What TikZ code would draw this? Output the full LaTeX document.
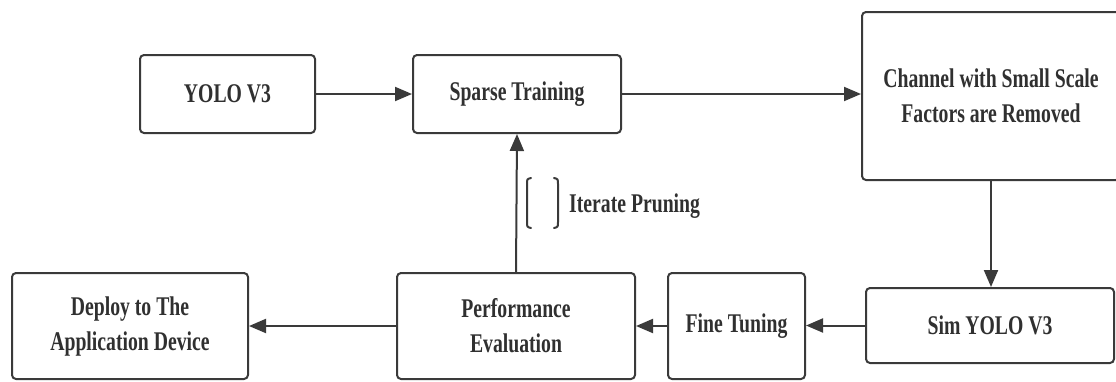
\documentclass[tikz,border=0pt]{standalone}
\usepackage{fontspec}
\setmainfont{Liberation Serif}[FakeStretch=0.73]
\usetikzlibrary{arrows.meta}
\definecolor{linec}{HTML}{3A3A3A}
\definecolor{textc}{HTML}{303030}
\begin{document}
\begin{tikzpicture}[x=1pt,y=-1pt,
  box/.style={draw=linec, line width=2pt, rounded corners=4pt, fill=white,
    text=textc, font=\bfseries\fontsize{27}{35}\selectfont, align=center, inner sep=0pt},
  flow/.style={draw=linec, line width=2pt, -{Triangle[length=17pt,width=14pt]}},
  bracket/.style={draw=linec, line width=2pt, line cap=round},
  note/.style={text=textc, font=\bfseries\fontsize{27}{35}\selectfont, inner sep=0pt}]
\useasboundingbox (0,0) rectangle (1116,381);

% process steps
\node[box, minimum width=175pt, minimum height=78pt]  (yolo)   at (227.5,94) {YOLO V3};
\node[box, minimum width=208pt, minimum height=78pt]  (sparse) at (517,94) {Sparse Training};
\node[box, minimum width=258pt, minimum height=168pt] (chan)   at (991,96) {Channel with Small Scale\\Factors are Removed};
\node[box, minimum width=248pt, minimum height=75pt]  (sim)    at (990,325.5) {Sim YOLO V3};
\node[box, minimum width=137pt, minimum height=106pt] (fine)   at (736.5,326) {Fine Tuning};
\node[box, minimum width=238pt, minimum height=106pt] (perf)   at (516,326) {Performance\\Evaluation};
\node[box, minimum width=236pt, minimum height=106pt] (deploy) at (130,326) {Deploy to The\\Application Device};

% flow connectors
\draw[flow] (yolo.east) -- (sparse.west);
\draw[flow] (sparse.east) -- (sparse.east -| chan.west);
\draw[flow] (chan.south) -- (chan.south |- sim.north);
\draw[flow] (sim.west) -- (sim.west -| fine.east);
\draw[flow] (fine.west) -- (perf.east);
\draw[flow] (perf.west) -- (deploy.east);
\draw[flow] (perf.north) -- (sparse.south);

% iteration annotation
\draw[bracket] (531,178) .. controls (527,179) .. (527,184) -- (527,222) .. controls (527,227) .. (531,228);
\draw[bracket] (554,178) .. controls (558,179) .. (558,184) -- (558,222) .. controls (558,227) .. (554,228);
\node[note, anchor=base west] (iter) at (569,212) {Iterate Pruning};
\end{tikzpicture}
\end{document}
